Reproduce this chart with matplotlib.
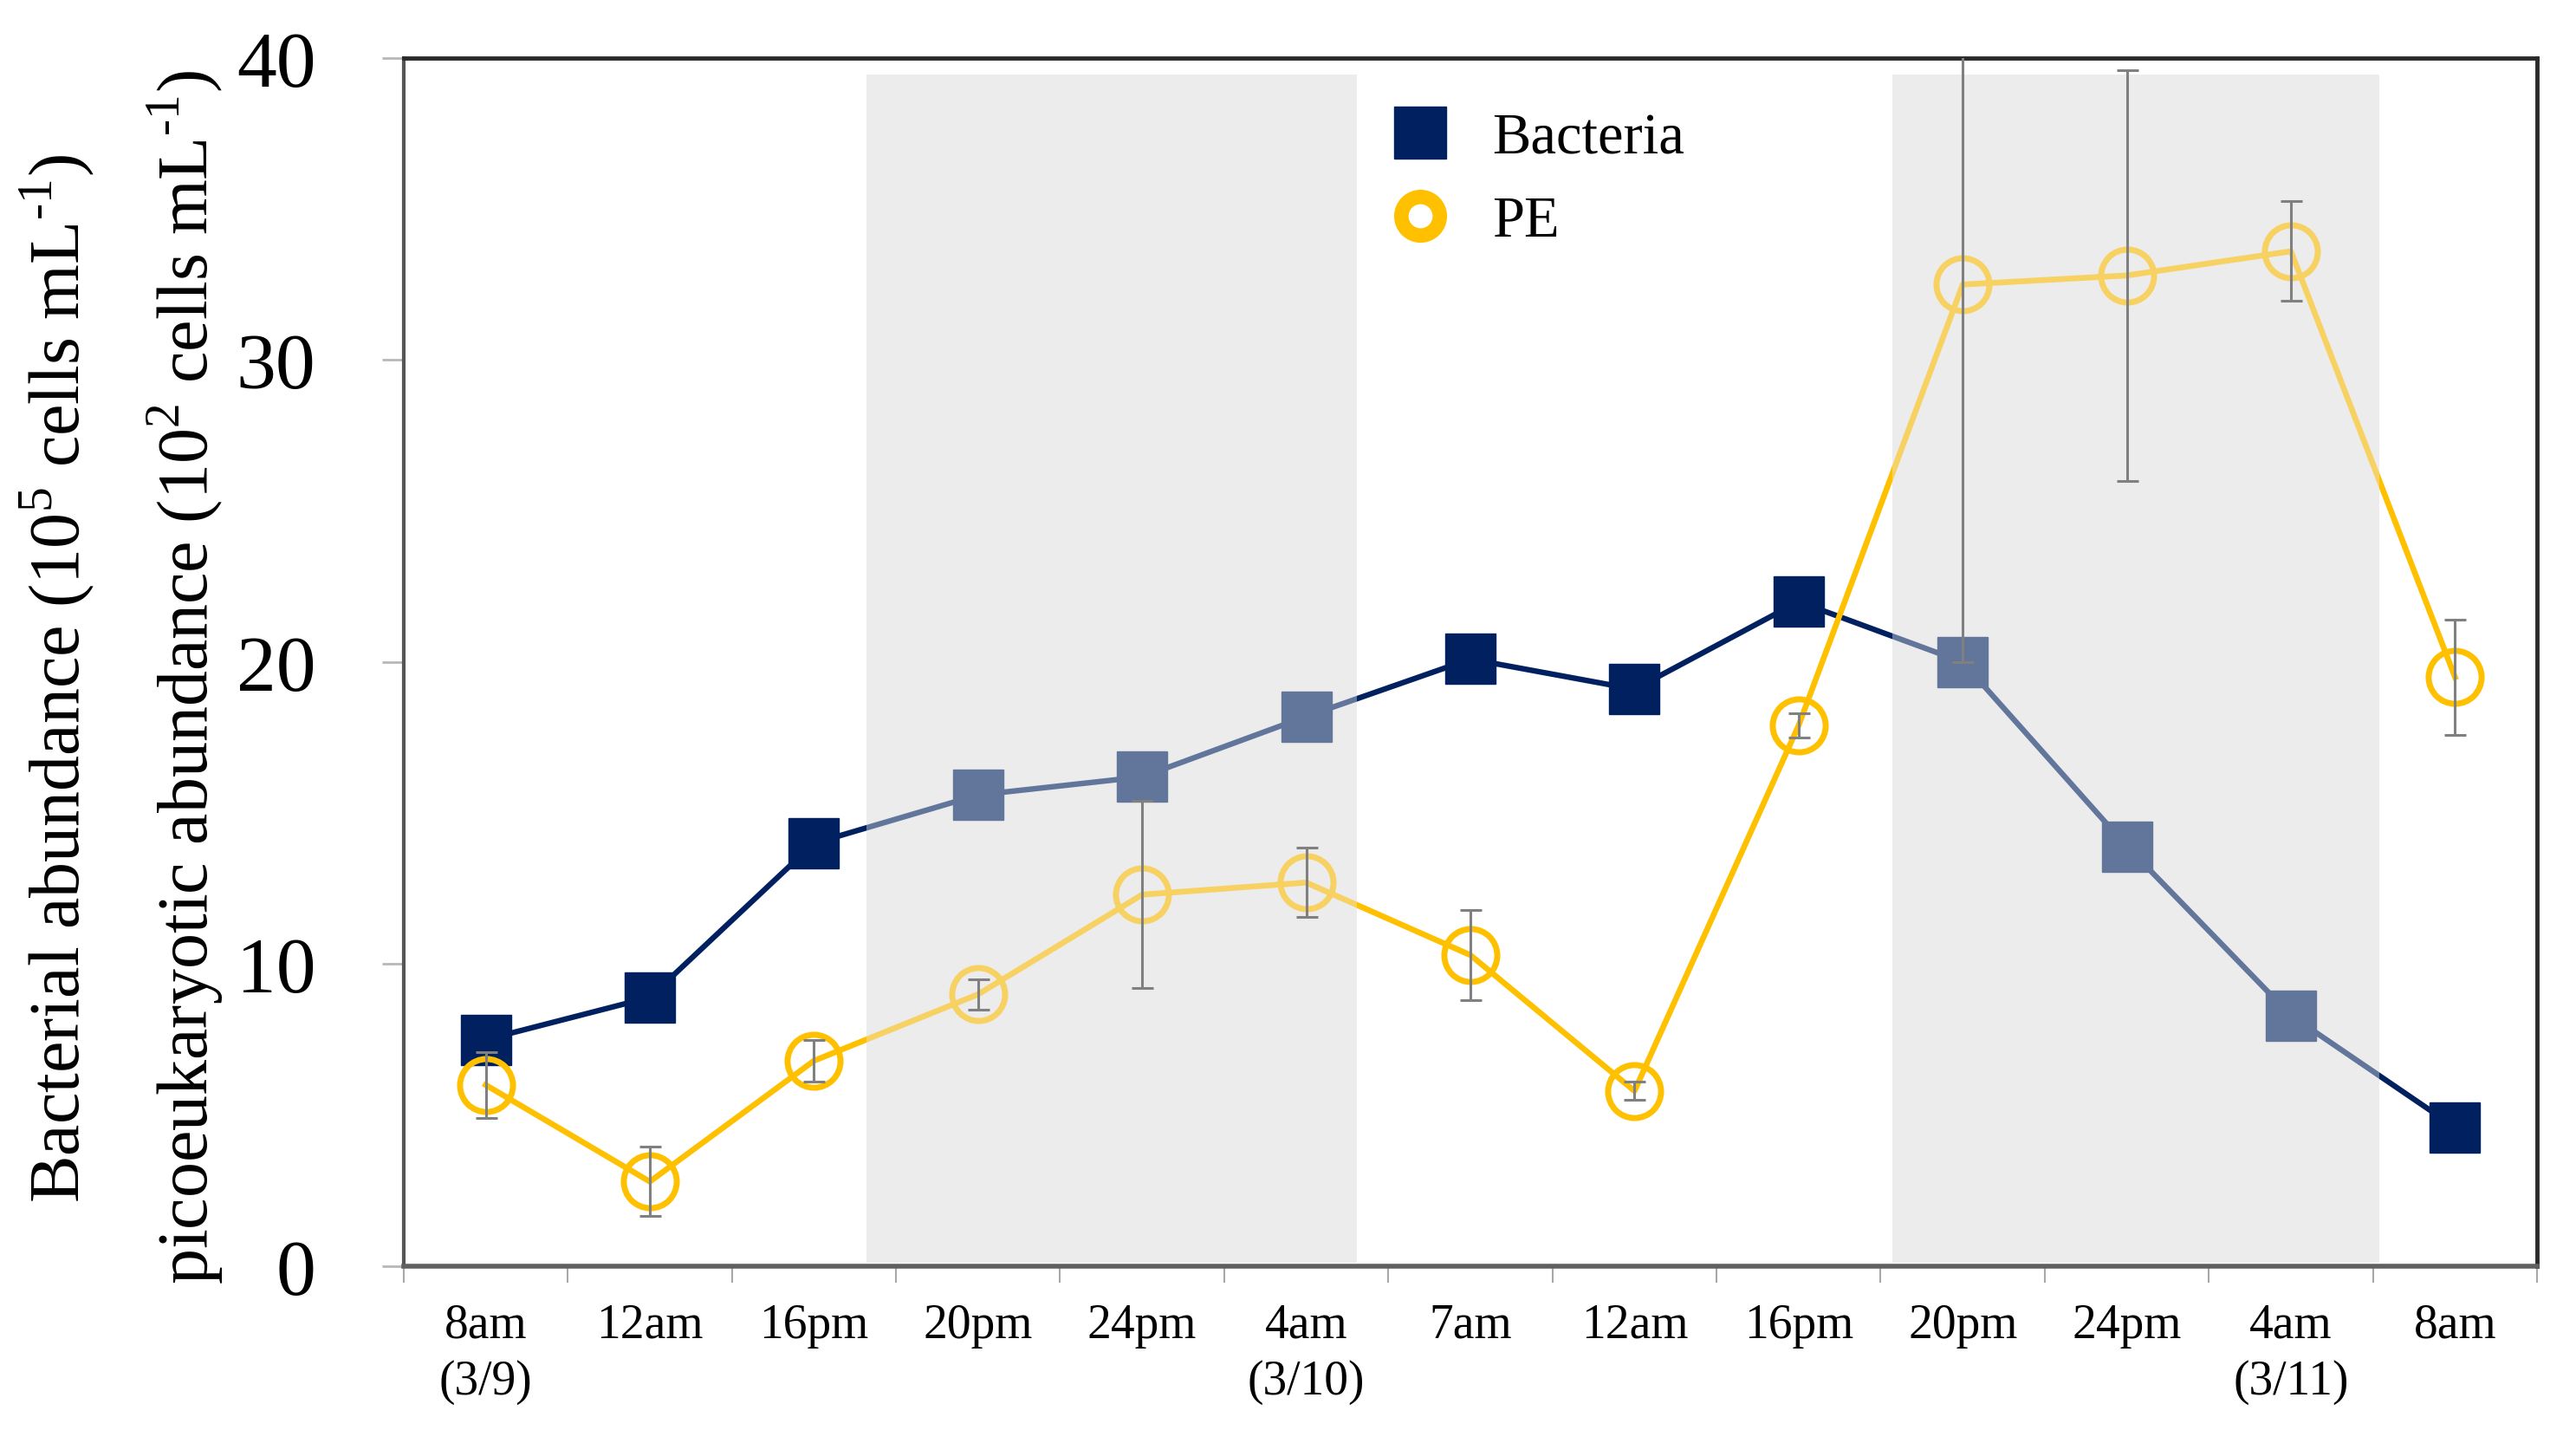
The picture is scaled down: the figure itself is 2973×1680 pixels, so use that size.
import matplotlib
matplotlib.use('Agg')
import matplotlib.pyplot as plt
from matplotlib.lines import Line2D
import numpy as np

plt.rcParams['font.family'] = ['Liberation Serif', 'DejaVu Serif']
plt.rcParams['mathtext.fontset'] = 'custom'
plt.rcParams['mathtext.rm'] = 'Liberation Serif'

# sampling times
time_labels = ['8am\n(3/9)', '12am', '16pm', '20pm', '24pm', '4am\n(3/10)', '7am',
               '12am', '16pm', '20pm', '24pm', '4am\n(3/11)', '8am']

# bacterial abundance (10^5 cells/mL)
bacteria = [7.5, 8.9, 14.0, 15.6, 16.2, 18.2, 20.1, 19.1, 22.0, 20.0, 13.9, 8.3, 4.6]

# picoeukaryotic abundance (10^2 cells/mL) and its error
pe = [6.0, 2.8, 6.8, 9.0, 12.3, 12.7, 10.3, 5.8, 17.9, 32.5, 32.8, 33.6, 19.5]
pe_err = [1.1, 1.15, 0.7, 0.5, 3.1, 1.15, 1.5, 0.3, 0.4, 12.5, 6.8, 1.65, 1.9]

# night periods (in category units)
night_spans = [(2.32, 5.31), (8.57, 11.54)]

navy = '#002060'
gold = '#ffc000'
shade = '#ececec'

fig = plt.figure(figsize=(29.73, 16.81), dpi=100)
ax = fig.add_axes([0.1567, 0.1303, 0.8282, 0.8293])

x = np.arange(len(time_labels))

# shaded night periods (background + translucent overlay to fade the data)
for x0, x1 in night_spans:
    ax.fill_between([x0, x1], 0.1, 39.45, color=shade, lw=0, zorder=0)
    ax.fill_between([x0, x1], 0.1, 39.45, color=shade, alpha=0.42, lw=0, zorder=5)

ax.plot(x, bacteria, color=navy, lw=4.6, marker='s', markersize=42,
        markerfacecolor=navy, markeredgecolor=navy, zorder=3)
ax.plot(x, pe, color=gold, lw=4.8, marker='o', markersize=44,
        markerfacecolor='none', markeredgecolor=gold, markeredgewidth=5, zorder=4)
ax.errorbar(x, pe, yerr=pe_err, fmt='none', ecolor='#808080', elinewidth=2.2,
            capsize=9, capthick=2.2, zorder=6)

ax.set_xlim(-0.5, 12.5)
ax.set_ylim(0, 40)
ax.set_yticks([0, 10, 20, 30, 40])
ax.set_xticks(x)
ax.set_xticklabels(time_labels, fontsize=40, linespacing=1.32)
ax.set_xticks(np.arange(-0.5, 13, 1), minor=True)
ax.tick_params(axis='x', which='major', length=0, pad=30)
ax.tick_params(axis='x', which='minor', length=14, width=1.5, color='#a8a8a8')
ax.tick_params(axis='y', labelsize=66, length=18, width=2, color='#b8b8b8', pad=55)

for side in ['top', 'right']:
    ax.spines[side].set_color('#2a2a2a')
    ax.spines[side].set_linewidth(3.5)
ax.spines['left'].set_color('#555555')
ax.spines['left'].set_linewidth(3)
ax.spines['bottom'].set_color('#606060')
ax.spines['bottom'].set_linewidth(4)

fig.text(0.0222, 0.534, r'Bacterial abundance (10$^{\mathrm{5}}$ cells mL$^{\text{-1}}$)',
         rotation=90, ha='center', va='center', fontsize=59)
fig.text(0.0715, 0.535, r'picoeukaryotic abundance (10$^{\mathrm{2}}$ cells mL$^{\text{-1}}$)',
         rotation=90, ha='center', va='center', fontsize=59)

handles = [Line2D([], [], ls='none', marker='s', markersize=43, color=navy),
           Line2D([], [], ls='none', marker='o', markersize=32, markerfacecolor='none',
                  markeredgecolor=gold, markeredgewidth=12)]
ax.legend(handles, ['Bacteria', 'PE'], loc='center left', bbox_to_anchor=(0.463, 0.899),
          frameon=False, fontsize=48, handletextpad=0.75, labelspacing=0.52,
          handlelength=1.0, borderpad=0, borderaxespad=0)

fig.savefig('out.png', dpi=100)
